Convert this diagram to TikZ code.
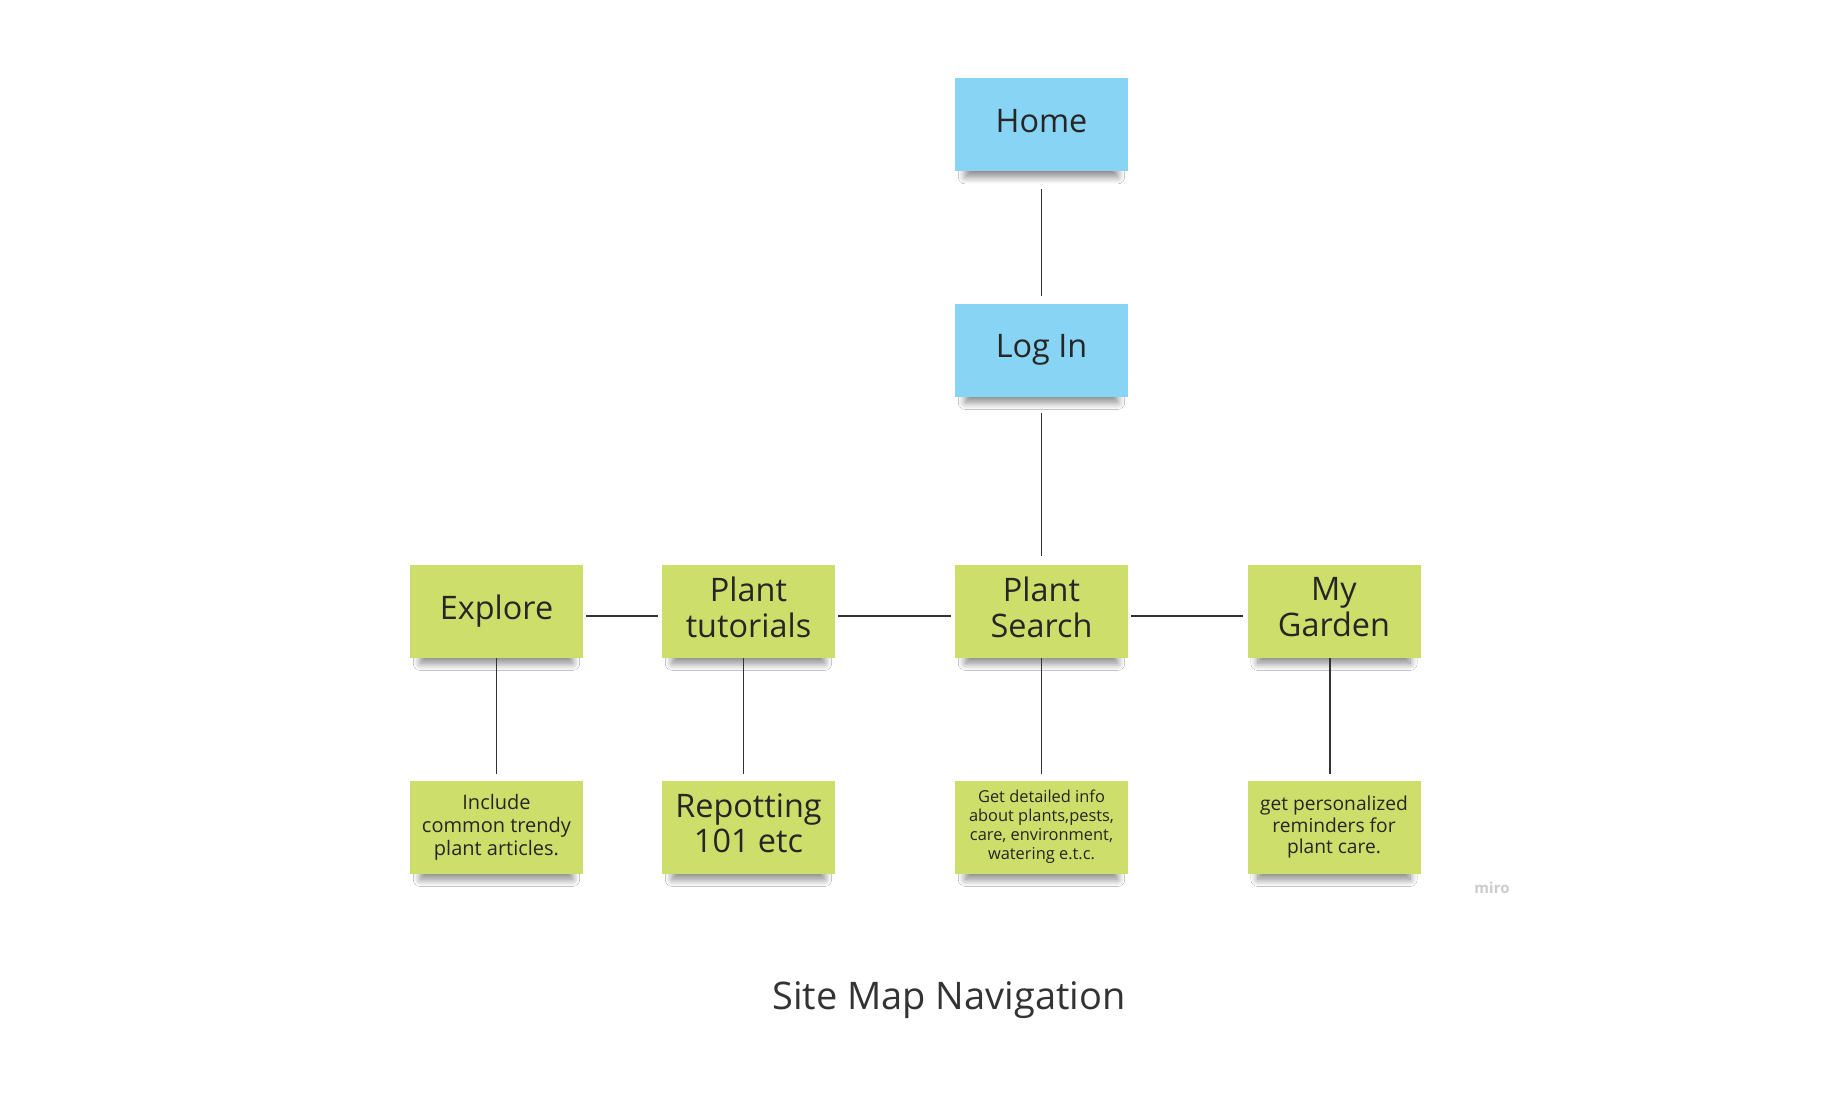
\documentclass[tikz,border=0pt]{standalone}
\usepackage{fontspec}
\setmainfont{Open Sans}
\usetikzlibrary{shadows.blur}
\definecolor{stickyblue}{RGB}{136,212,244}
\definecolor{stickygreen}{RGB}{206,222,106}
\definecolor{inkgray}{RGB}{51,51,51}
\newcommand{\liftstrut}{\rule[-4pt]{0pt}{0pt}}

\begin{document}
\begin{tikzpicture}[x=0.5pt,y=-0.5pt,
    note/.style={minimum width=86.5pt, minimum height=46.5pt, inner sep=2pt, align=center, text=black!85,
        blur shadow={shadow xshift=0pt, shadow yshift=-6.5pt, shadow scale=0.88, shadow opacity=48, shadow blur radius=4pt, shadow blur steps=12}},
    page/.style={note, fill=stickyblue, font=\fontsize{16.2}{17.8}\selectfont, execute at end node=\liftstrut},
    topic/.style={note, fill=stickygreen, font=\fontsize{16.2}{17.8}\selectfont, execute at end node=\liftstrut},
    memo/.style={note, fill=stickygreen},
    link/.style={draw=inkgray, line width=0.65pt}]
    \fill[white] (0,0) rectangle (1842,1116);
    \useasboundingbox (0,0) rectangle (1842,1116);

    \node[page] (home) at (1041.5,124.5) {Home};
    \node[page] (login) at (1041.5,350) {Log In};

    \node[topic] (explore) at (496.5,611) {Explore};
    \node[topic] (tutorials) at (748.5,611) {Plant\\tutorials};
    \node[topic] (search) at (1041.5,611) {Plant\\Search};
    \node[topic] (garden) at (1334,611) {My\\Garden};

    \node[memo, font=\fontsize{10}{11.5}\selectfont] (trendy) at (496.5,827) {Include\\common trendy\\plant articles.};
    \node[topic] (repot) at (748.5,827) {Repotting\\101 etc};
    \node[memo, font=\fontsize{8.2}{9.5}\selectfont] (details) at (1041.5,827) {Get detailed info\\about plants,pests,\\care, environment,\\watering e.t.c.};
    \node[memo, font=\fontsize{9.6}{10.9}\selectfont] (remind) at (1334,827) {get personalized\\reminders for\\plant care.};

    \draw[link, shorten <=9pt, shorten >=3.5pt] (home) -- (login);
    \draw[link, shorten <=8pt, shorten >=4pt] (login) -- (search);
    \draw[link, shorten <=1.5pt, shorten >=2pt] ([yshift=-2.5pt]explore.east) -- ([yshift=-2.5pt]tutorials.west);
    \draw[link, shorten <=1.5pt, shorten >=2pt] ([yshift=-2.5pt]tutorials.east) -- ([yshift=-2.5pt]search.west);
    \draw[link, shorten <=1.5pt, shorten >=2pt] ([yshift=-2.5pt]search.east) -- ([yshift=-2.5pt]garden.west);
    \draw[link, shorten >=3pt] (explore) -- (trendy);
    \draw[link, shorten >=3pt] ([xshift=-2.5pt]tutorials.south) -- ([xshift=-2.5pt]repot.north);
    \draw[link, shorten >=3pt] (search) -- (details);
    \draw[link, shorten >=3pt] ([xshift=-2pt]garden.south) -- ([xshift=-2pt]remind.north);

    \node[text=gray!40, font=\fontsize{7.5}{9}\selectfont\bfseries] (logo) at (1492,888) {miro};
    \node[text=inkgray, font=\fontsize{19}{22}\selectfont] (title) at (949,1000) {Site Map Navigation};
\end{tikzpicture}
\end{document}
